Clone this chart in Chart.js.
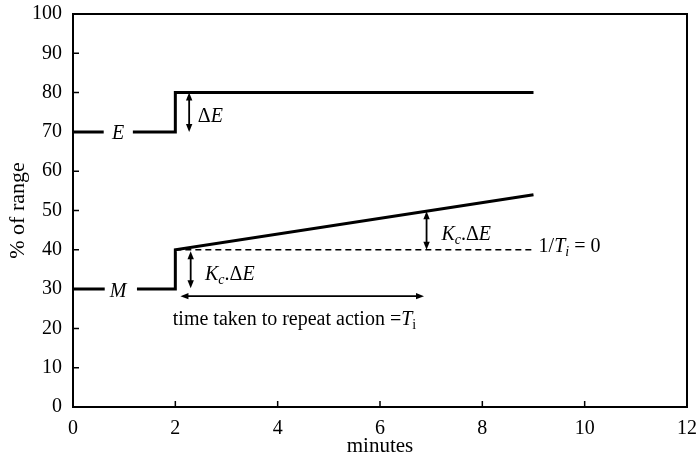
<!DOCTYPE html>
<html><head><meta charset="utf-8">
<script src="https://cdn.jsdelivr.net/npm/chart.js@4/dist/chart.umd.min.js"></script>
<style>html,body{margin:0;padding:0;background:#fff}#wrap{width:699px;height:462px;position:relative}</style>
</head><body><div id="wrap"><canvas id="c" width="699" height="462"></canvas></div>
<script>
const xTicks = [0, 2, 4, 6, 8, 10, 12];
const yTicks = [0, 10, 20, 30, 40, 50, 60, 70, 80, 90, 100];
// set point E
const eX = [0, 0.6, 0.9, 1.17, 2, 2, 9];
const eY = [70, 70, null, 70, 70, 80, 80];
// measured value M
const mX = [0, 0.62, 0.9, 1.25, 2, 2, 9];
const mY = [30, 30, null, 30, 30, 40, 54];
// reference line 1/Ti = 0
const refX = [2, 9];
const refY = [40, 40];
// double-headed arrows
const arrowX1 = [2.27, 2.3, 6.91, 2.1];
const arrowY1 = [70, 30.2, 40, 28.2];
const arrowX2 = [2.27, 2.3, 6.91, 6.86];
const arrowY2 = [80, 39.6, 49.8, 28.2];
// text labels
const labelX = [0.88, 0.88, 2.44, 2.58, 7.2, 9.1, 1.95];
const labelY = [69.5, 29.4, 73.8, 33.6, 43.8, 40.8, 22.1];
const labelAlign = ['center', 'center', 'left', 'left', 'left', 'left', 'left'];
const labelRuns = [
  [{t: 'E', it: true}],
  [{t: 'M', it: true}],
  [{t: '\u0394'}, {t: 'E', it: true}],
  [{t: 'K', it: true}, {t: 'c', it: true, sub: true}, {t: '.\u0394'}, {t: 'E', it: true}],
  [{t: 'K', it: true}, {t: 'c', it: true, sub: true}, {t: '.\u0394'}, {t: 'E', it: true}],
  [{t: '1/'}, {t: 'T', it: true}, {t: 'i', it: true, sub: true}, {t: ' = 0'}],
  [{t: 'time taken to repeat action ='}, {t: 'T', it: true}, {t: 'i', sub: true}]
];

const FONT = '"Liberation Serif", "Times New Roman", serif';
const toPts = (xs, ys) => xs.map((x, i) => ({x: x, y: ys[i]}));

function runFont(r, size) {
  return (r.it ? 'italic ' : '') + (r.sub ? Math.round(size * 0.7) : size) + 'px ' + FONT;
}
function drawRuns(ctx, x, y, runs, size, align) {
  let total = 0;
  runs.forEach(r => { ctx.font = runFont(r, size); total += ctx.measureText(r.t).width; });
  let cx = align === 'center' ? x - total / 2 : x;
  ctx.textAlign = 'left';
  ctx.textBaseline = 'middle';
  runs.forEach(r => {
    ctx.font = runFont(r, size);
    ctx.fillText(r.t, cx, y + (r.sub ? size * 0.28 : 0));
    cx += ctx.measureText(r.t).width;
  });
}
function head(ctx, x, y, ang) {
  const L = 8, W = 3.2;
  ctx.beginPath();
  ctx.moveTo(x, y);
  ctx.lineTo(x - L * Math.cos(ang) + W * Math.sin(ang), y - L * Math.sin(ang) - W * Math.cos(ang));
  ctx.lineTo(x - L * Math.cos(ang) - W * Math.sin(ang), y - L * Math.sin(ang) + W * Math.cos(ang));
  ctx.closePath();
  ctx.fill();
}
function zeroPad(s) { s.paddingTop = 0; s.paddingBottom = 0; s.paddingLeft = 0; s.paddingRight = 0; }

const decor = {
  id: 'decor',
  afterDraw(chart) {
    const ctx = chart.ctx, a = chart.chartArea;
    const xs = chart.scales.x, ys = chart.scales.y;
    ctx.save();
    ctx.strokeStyle = '#000';
    ctx.fillStyle = '#000';
    // frame
    ctx.lineWidth = 2;
    ctx.strokeRect(a.left, a.top, a.right - a.left, a.bottom - a.top);
    // inward ticks
    ctx.lineWidth = 1.5;
    ctx.beginPath();
    xTicks.forEach(v => { const p = xs.getPixelForValue(v); ctx.moveTo(p, a.bottom); ctx.lineTo(p, a.bottom - 6); });
    yTicks.forEach(v => { const p = ys.getPixelForValue(v); ctx.moveTo(a.left, p); ctx.lineTo(a.left + 6, p); });
    ctx.stroke();
    // arrows
    ctx.lineWidth = 1.8;
    arrowX1.forEach((_, i) => {
      const x1 = xs.getPixelForValue(arrowX1[i]), y1 = ys.getPixelForValue(arrowY1[i]);
      const x2 = xs.getPixelForValue(arrowX2[i]), y2 = ys.getPixelForValue(arrowY2[i]);
      const ang = Math.atan2(y2 - y1, x2 - x1);
      ctx.beginPath();
      ctx.moveTo(x1 + 5 * Math.cos(ang), y1 + 5 * Math.sin(ang));
      ctx.lineTo(x2 - 5 * Math.cos(ang), y2 - 5 * Math.sin(ang));
      ctx.stroke();
      head(ctx, x2, y2, ang);
      head(ctx, x1, y1, ang + Math.PI);
    });
    // labels
    labelX.forEach((_, i) => {
      drawRuns(ctx, xs.getPixelForValue(labelX[i]), ys.getPixelForValue(labelY[i]), labelRuns[i], 20, labelAlign[i]);
    });
    ctx.restore();
  }
};

new Chart(document.getElementById('c'), {
  type: 'scatter',
  data: {
    datasets: [
      {data: toPts(eX, eY), showLine: true, spanGaps: false, borderColor: '#000', borderWidth: 3, pointRadius: 0, tension: 0},
      {data: toPts(mX, mY), showLine: true, spanGaps: false, borderColor: '#000', borderWidth: 3, pointRadius: 0, tension: 0},
      {data: toPts(refX, refY), showLine: true, borderColor: '#000', borderWidth: 1.5, borderDash: [6, 4], pointRadius: 0}
    ]
  },
  options: {
    responsive: false,
    animation: false,
    events: [],
    layout: {autoPadding: false, padding: {top: 14, right: 12, left: 0, bottom: 0}},
    plugins: {legend: {display: false}, tooltip: {enabled: false}},
    scales: {
      x: {
        type: 'linear', min: 0, max: 12,
        afterBuildTicks: s => { s.ticks = xTicks.map(v => ({value: v})); },
        afterFit: s => { s.height = 55; zeroPad(s); },
        grid: {display: false, drawTicks: false},
        border: {display: true, color: '#000', width: 2},
        ticks: {color: '#000', padding: 10, maxRotation: 0, font: {family: FONT, size: 20}},
        title: {display: true, text: 'minutes', color: '#000', font: {family: FONT, size: 21}, padding: {top: 0, bottom: 3}}
      },
      y: {
        type: 'linear', min: 0, max: 100,
        afterBuildTicks: s => { s.ticks = yTicks.map(v => ({value: v})); },
        afterFit: s => { s.width = 73; zeroPad(s); },
        grid: {display: false, drawTicks: false},
        border: {display: true, color: '#000', width: 2},
        ticks: {color: '#000', padding: 11, font: {family: FONT, size: 20}},
        title: {display: true, text: '% of range', color: '#000', font: {family: FONT, size: 22}, padding: {top: 5, bottom: 0}}
      }
    }
  },
  plugins: [decor]
});
</script>
</body></html>
